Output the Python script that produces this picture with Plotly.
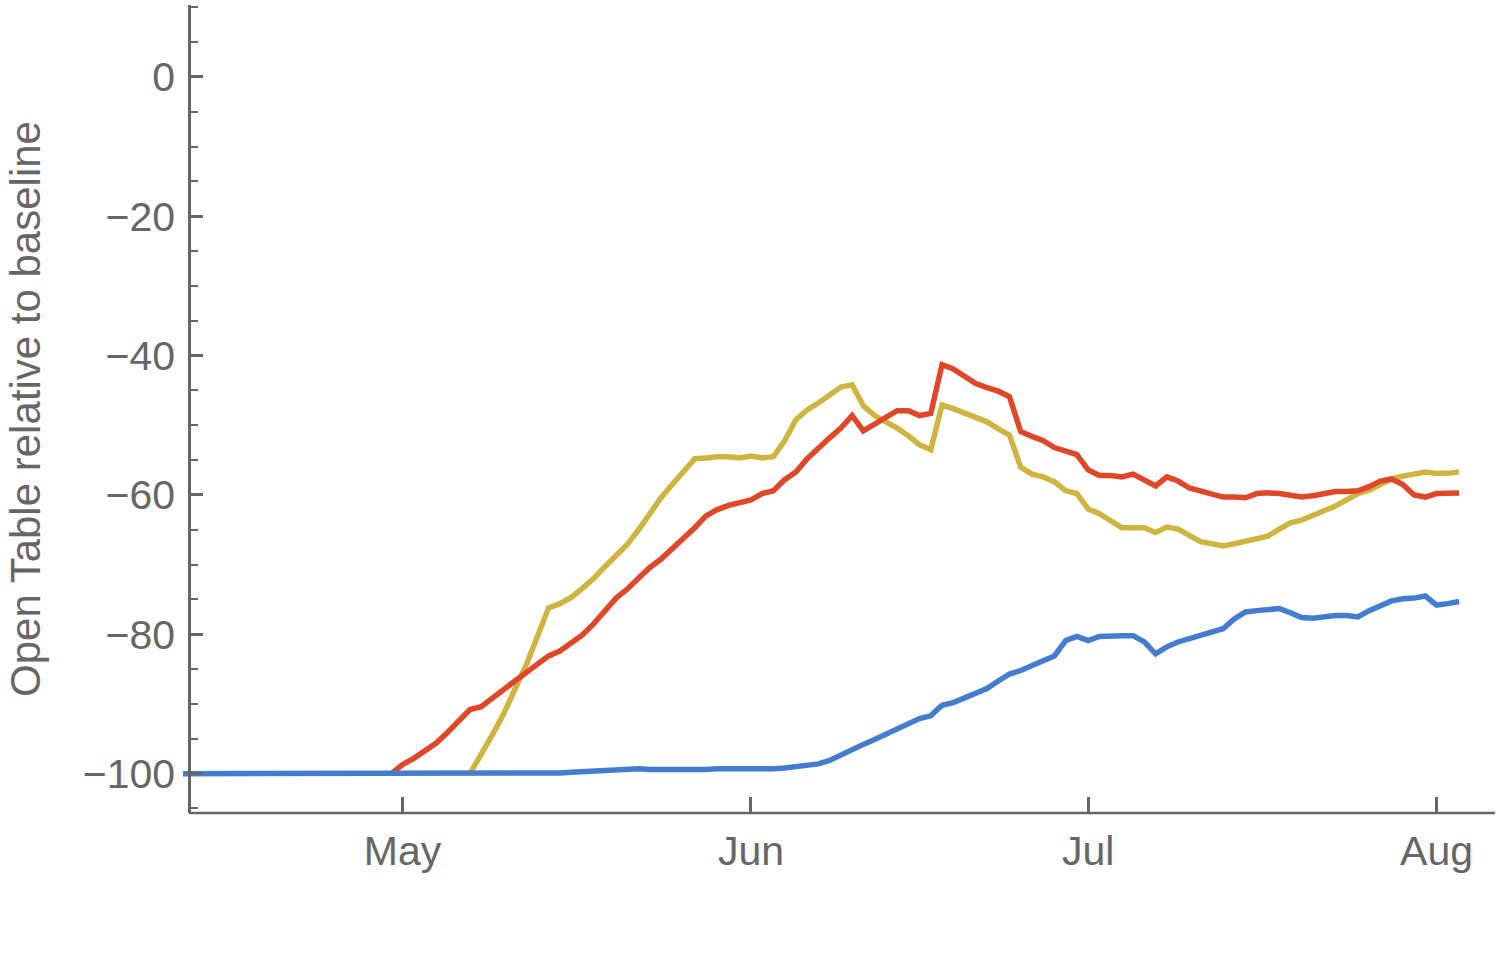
import pandas as pd
import plotly.graph_objects as go

# ---- data (daily) ----
blue_start = "2020-04-11"
blue_vals = [
    -100, -100, -100, -100, -100, -100, -100, -100, -100, -100,
    -100, -100, -100, -100, -100, -100, -100, -100, -100, -100,
    -100, -100, -100, -100, -100, -100, -100, -100, -100, -100,
    -100, -100, -100, -100,
    -99.9, -99.8, -99.7, -99.6, -99.6, -99.4, -99.3, -99.3, -99.4, -99.4,
    -99.4, -99.4, -99.5, -99.4, -99.3, -99.3, -99.4, -99.4, -99.4, -99.3,
    -99.2, -99.0, -98.9, -98.6, -98.1, -97.3, -96.4, -95.8, -95.1, -94.4,
    -93.7, -93.0, -92.1, -91.7, -90.2, -89.8, -89.2, -88.5, -87.8, -86.7,
    -85.7, -85.2, -84.6, -83.8, -83.1, -80.9, -80.3, -80.9, -80.3, -80.2,
    -80.2, -80.2, -81.1, -82.8, -81.8, -81.1, -80.6, -80.2, -79.6, -79.2,
    -77.8, -76.8, -76.6, -76.5, -76.3, -76.9, -77.6, -77.7, -77.5, -77.3,
    -77.3, -77.5, -76.6, -75.8, -75.2, -74.9, -74.8, -74.5, -75.8, -75.6,
    -75.3,
]

red_start = "2020-04-30"
red_vals = [
    -100, -98.7, -97.8, -96.8, -95.6, -94.1, -92.4, -90.8, -90.4, -89.1,
    -87.8, -86.7, -85.5, -84.4, -83.1, -82.4, -81.3, -80.1, -78.5, -76.6,
    -74.8, -73.5, -71.9, -70.4, -69.2, -67.7, -66.3, -64.7, -63.0, -62.1,
    -61.5, -61.2, -60.7, -59.8, -59.4, -57.8, -56.7, -54.8, -53.2, -51.8,
    -50.4, -48.6, -50.8, -49.8, -48.9, -47.9, -47.9, -48.6, -48.3, -41.3,
    -41.9, -42.9, -44.0, -44.6, -45.1, -45.9, -50.9, -51.6, -52.2, -53.2,
    -53.7, -54.2, -56.4, -57.2, -57.2, -57.4, -57.0, -57.8, -58.7, -57.4,
    -58.0, -59.0, -59.5, -60.0, -60.3, -60.3, -60.4, -59.8, -59.7, -59.8,
    -60.0, -60.3, -60.1, -59.7, -59.5, -59.5, -59.4, -58.8, -58.0, -57.7,
    -58.5, -60.0, -60.3, -59.8, -59.8, -59.7,
]

yellow_start = "2020-05-07"
yellow_vals = [
    -100, -97.3, -94.4, -91.4, -87.9, -84.4, -80.3, -76.2, -75.6, -74.7,
    -73.4, -72.0, -70.3, -68.6, -67.1, -65.0, -62.7, -60.4, -58.5, -56.5,
    -54.8, -54.7, -54.5, -54.5, -54.7, -54.4, -54.7, -54.5, -52.2, -49.2,
    -47.8, -46.8, -45.6, -44.5, -44.2, -47.2, -48.6, -49.4, -50.4, -51.5,
    -52.8, -53.5, -47.1, -47.6, -48.2, -48.9, -49.5, -50.5, -51.4, -56.0,
    -57.0, -57.4, -58.1, -59.4, -59.8, -62.0, -62.7, -63.7, -64.7, -64.7,
    -64.7, -65.4, -64.6, -64.9, -65.9, -66.7, -67.0, -67.3, -67.0, -66.6,
    -66.3, -65.9, -64.9, -64.0, -63.6, -63.0, -62.3, -61.6, -60.7, -59.8,
    -59.3, -58.4, -57.7, -57.3, -56.9, -56.7, -56.9, -56.9, -56.7,
]

month_ticks = ["2020-05-01", "2020-06-01", "2020-07-01", "2020-08-01"]
month_labels = ["May", "Jun", "Jul", "Aug"]
y_title = "Open Table relative to baseline"

blue_dates = pd.date_range(blue_start, periods=len(blue_vals), freq="D")
red_dates = pd.date_range(red_start, periods=len(red_vals), freq="D")
yellow_dates = pd.date_range(yellow_start, periods=len(yellow_vals), freq="D")

BLUE = "#447DD0"
RED = "#E04628"
YELLOW = "#D0B440"
GRAY = "#666666"
FONT = "Liberation Sans"

fig = go.Figure()
fig.add_trace(go.Scatter(x=yellow_dates, y=yellow_vals, mode="lines",
                         line=dict(color=YELLOW, width=5.5), showlegend=False))
fig.add_trace(go.Scatter(x=red_dates, y=red_vals, mode="lines",
                         line=dict(color=RED, width=5.5), showlegend=False))
fig.add_trace(go.Scatter(x=blue_dates, y=blue_vals, mode="lines",
                         line=dict(color=BLUE, width=5.5), showlegend=False))

L, R, T, B = 183, 15, 5, 154
plot_w = 1510 - L - R
axis_pos = 6 / plot_w

fig.update_layout(
    width=1510, height=967,
    margin=dict(l=L, r=R, t=T, b=B, autoexpand=False),
    paper_bgcolor="white", plot_bgcolor="white",
    font=dict(family=FONT, size=42, color=GRAY),
    xaxis=dict(
        type="date",
        range=["2020-04-11 11:10", "2020-08-06 04:50"],
        tickvals=month_ticks, ticktext=month_labels,
        ticks="inside", ticklen=16, tickwidth=2.5, tickcolor=GRAY,
        showline=False, showgrid=False, zeroline=False,
        tickfont=dict(family=FONT, size=41, color=GRAY),
        ticklabelstandoff=10,
    ),
    yaxis=dict(
        anchor="free", position=axis_pos,
        range=[-105.65, 10.33],
        tick0=0, dtick=20,
        ticks="inside", ticklen=12, tickwidth=2.5, tickcolor=GRAY,
        minor=dict(ticks="inside", dtick=5, tick0=0, ticklen=7, tickwidth=2, tickcolor=GRAY),
        showline=True, linecolor=GRAY, linewidth=2.5,
        showgrid=False, zeroline=False,
        tickfont=dict(family=FONT, size=41, color=GRAY),
        ticklabelstandoff=5,
    ),
    shapes=[dict(type="line", xref="paper", yref="paper",
                 x0=axis_pos, x1=1, y0=0, y1=0,
                 line=dict(color=GRAY, width=2.5))],
    annotations=[dict(text=y_title, xref="paper", yref="paper",
                      x=(25 - L) / plot_w, y=0.5, xanchor="center", yanchor="middle",
                      textangle=-90, showarrow=False,
                      font=dict(family=FONT, size=42, color=GRAY))],
)

fig.write_html("out.html", config={"displayModeBar": False},
               post_script="document.body.style.margin='0';")
